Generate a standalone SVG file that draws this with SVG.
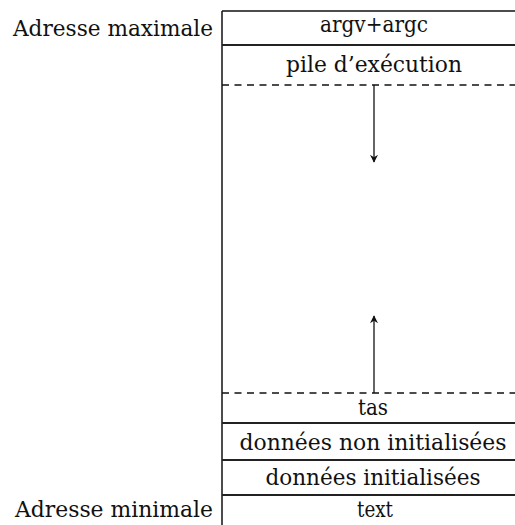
<svg xmlns="http://www.w3.org/2000/svg" width="515" height="525" viewBox="0 0 515 525">
  <style>
    text { font-family: "DejaVu Serif", "Liberation Serif", serif; font-size: 23px; fill: #111; }
    .c { text-anchor: middle; }
    .solid { stroke: #111; stroke-width: 1.5; fill: none; }
    .thick { stroke: #222; stroke-width: 2.2; fill: none; }
    .dash { stroke: #111; stroke-width: 1.3; stroke-dasharray: 7 5.5; fill: none; }
    .arrow { stroke: #111; stroke-width: 1.3; fill: none; }
  </style>
  <defs>
    <marker id="head" viewBox="0 0 10 10" refX="9" refY="5" markerWidth="8" markerHeight="8" markerUnits="userSpaceOnUse" orient="auto">
      <path d="M0,0 L10,5 L0,10 L3,5 Z" fill="#111"/>
    </marker>
  </defs>

  <!-- outer column -->
  <g id="column">
    <line class="solid" x1="222" y1="11" x2="222" y2="525"/>
    <line class="solid" x1="222" y1="11" x2="515" y2="11"/>
  </g>

  <g id="argv">
    <text class="c" x="374" y="32" textLength="108" lengthAdjust="spacingAndGlyphs">argv+argc</text>
    <line class="thick" x1="222" y1="45" x2="515" y2="45"/>
  </g>

  <g id="pile">
    <text class="c" x="374" y="72" textLength="176" lengthAdjust="spacingAndGlyphs">pile d’exécution</text>
    <line class="dash" x1="222" y1="85" x2="515" y2="85"/>
  </g>

  <g id="tas">
    <line class="dash" x1="222" y1="393" x2="515" y2="393"/>
    <text class="c" x="373" y="415" textLength="30" lengthAdjust="spacingAndGlyphs">tas</text>
    <line class="thick" x1="222" y1="423" x2="515" y2="423"/>
  </g>

  <g id="bss">
    <text class="c" x="373" y="450" textLength="267" lengthAdjust="spacingAndGlyphs">données non initialisées</text>
    <line class="thick" x1="222" y1="460" x2="515" y2="460"/>
  </g>

  <g id="data">
    <text class="c" x="373" y="485" textLength="215" lengthAdjust="spacingAndGlyphs">données initialisées</text>
    <line class="thick" x1="222" y1="495" x2="515" y2="495"/>
  </g>

  <g id="text-seg">
    <text class="c" x="375" y="517" textLength="36" lengthAdjust="spacingAndGlyphs">text</text>
  </g>

  <g id="labels">
    <text x="13" y="36" textLength="200" lengthAdjust="spacingAndGlyphs">Adresse maximale</text>
    <text x="15" y="517" textLength="198" lengthAdjust="spacingAndGlyphs">Adresse minimale</text>
  </g>

  <g id="connectors">
    <line class="arrow" x1="374" y1="85" x2="374" y2="162" marker-end="url(#head)"/>
    <line class="arrow" x1="374" y1="393" x2="374" y2="316" marker-end="url(#head)"/>
  </g>
</svg>
